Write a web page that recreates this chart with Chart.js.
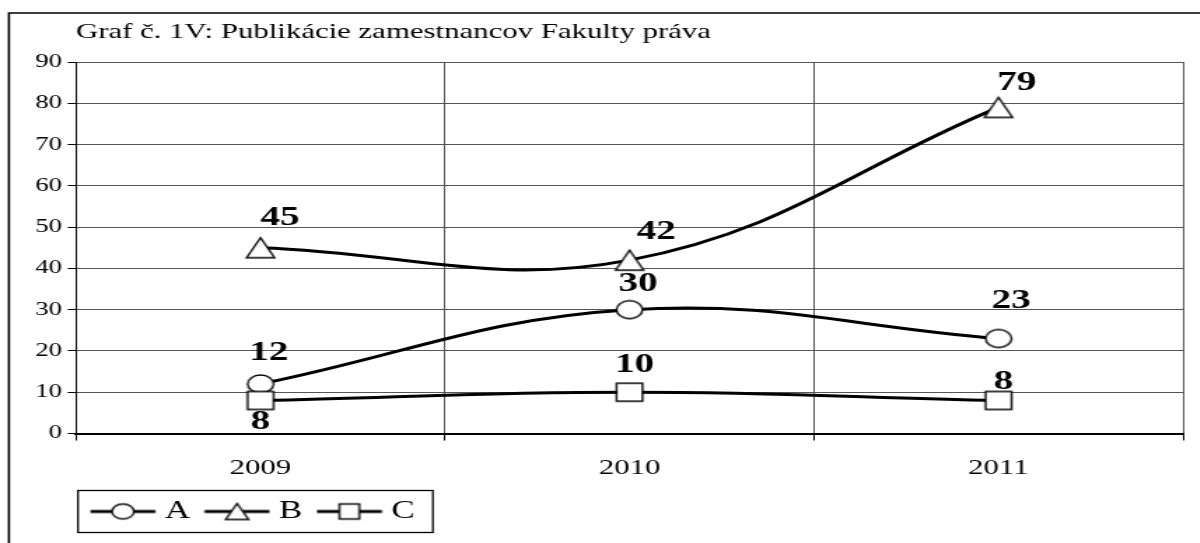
<!DOCTYPE html>
<html><head><meta charset="utf-8">
<script src="https://cdn.jsdelivr.net/npm/chart.js@4/dist/chart.umd.min.js"></script>
<style>
html,body{margin:0;padding:0;background:#fff;overflow:hidden;width:1200px;height:543px}
#c{display:block;transform:scaleX(1.4);transform-origin:0 0}
.fl{position:absolute;left:-9999px;top:0;font-family:"Liberation Serif";}
</style></head>
<body><canvas id="c" width="857" height="543"></canvas>
<span class="fl">Aa0</span><span class="fl" style="font-weight:bold">Aa0</span>
<script>
const chartTitle = 'Graf č. 1V: Publikácie zamestnancov Fakulty práva';
const categories = ['2009', '2010', '2011'];
const seriesNames = ['A', 'B', 'C'];
const seriesA = [12, 30, 23];
const seriesB = [45, 42, 79];
const seriesC = [8, 10, 8];
const yMin = 0, yMax = 90, yStep = 10;

const FONT = '"Liberation Serif", "Times New Roman", Times, serif';
const GRID = '#555555';

function drawShape(g, shape, cx, cy, w, h) {
  g.beginPath();
  if (shape === 'ellipse') g.ellipse(cx, cy, w / 2, h / 2, 0, 0, Math.PI * 2);
  else if (shape === 'triangle') { g.moveTo(cx, cy - h / 2); g.lineTo(cx + w / 2, cy + h / 2); g.lineTo(cx - w / 2, cy + h / 2); g.closePath(); }
  else g.rect(cx - w / 2, cy - h / 2, w, h);
  g.fillStyle = '#fff'; g.fill(); g.stroke();
}
function makeMarker(shape, w, h) {
  const c = document.createElement('canvas');
  c.width = Math.ceil(w + 4); c.height = Math.ceil(h + 4);
  const g = c.getContext('2d');
  g.strokeStyle = '#000'; g.lineWidth = 1.4;
  drawShape(g, shape, c.width / 2, c.height / 2, w, h);
  return c;
}
function makeLegendImg(shape, w, h) {
  const c = document.createElement('canvas');
  c.width = 48; c.height = 22;
  const g = c.getContext('2d');
  g.strokeStyle = '#000'; g.lineWidth = 2.8;
  g.beginPath(); g.moveTo(0.8, 11); g.lineTo(47.2, 11); g.stroke();
  g.lineWidth = 1.4;
  drawShape(g, shape, 24, 11, w, h);
  return c;
}
const markers = [makeMarker('ellipse', 18.5, 18), makeMarker('triangle', 20, 20), makeMarker('rect', 18.5, 18)];
const legendImgs = [makeLegendImg('ellipse', 15.7, 15), makeLegendImg('triangle', 16.4, 16), makeLegendImg('rect', 14.3, 15)];

const framePlugin = {
  id: 'frame',
  beforeDraw(chart) {
    const ctx = chart.ctx;
    ctx.save();
    ctx.fillStyle = '#fff'; ctx.fillRect(0, 0, chart.width, chart.height);
    ctx.strokeStyle = '#000'; ctx.lineWidth = 1.6;
    ctx.beginPath(); ctx.moveTo(6.4, 543); ctx.lineTo(6.4, 13); ctx.lineTo(chart.width, 13); ctx.stroke();
    ctx.restore();
  },
  afterDraw(chart) {
    const lg = chart.legend;
    if (!lg || !lg.legendHitBoxes || !lg.legendHitBoxes.length) return;
    const hb = lg.legendHitBoxes;
    const last = hb[hb.length - 1];
    const cy = hb[0].top + hb[0].height / 2;
    const ctx = chart.ctx;
    ctx.save();
    ctx.strokeStyle = '#000'; ctx.lineWidth = 1.3;
    const l = lg.left + 1.4, r = last.left + last.width + 13;
    ctx.strokeRect(l, cy - 21, r - l, 42);
    ctx.restore();
  }
};

const labelPlugin = {
  id: 'valueLabels',
  afterDatasetsDraw(chart, args, opts) {
    const ctx = chart.ctx;
    ctx.save();
    ctx.font = 'bold 28px ' + FONT;
    ctx.fillStyle = '#000';
    ctx.textAlign = 'center';
    ctx.textBaseline = 'middle';
    chart.data.datasets.forEach((ds, di) => {
      const meta = chart.getDatasetMeta(di);
      meta.data.forEach((pt, i) => {
        const off = opts.offsets[di][i];
        ctx.fillText(String(ds.data[i]), pt.x + off[0], pt.y + off[1]);
      });
    });
    ctx.restore();
  }
};

const seriesData = [seriesA, seriesB, seriesC];
const drawOrder = [2, 1, 0];

function build() {
  new Chart(document.getElementById('c'), {
    type: 'line',
    data: {
      labels: categories,
      datasets: seriesData.map((d, i) => ({
        label: seriesNames[i],
        data: d,
        borderColor: '#000',
        borderWidth: 3,
        backgroundColor: '#fff',
        tension: 0.4,
        pointStyle: markers[i],
        pointRadius: 9,
        pointHoverRadius: 9,
        order: drawOrder[i],
        fill: false
      }))
    },
    options: {
      responsive: false,
      devicePixelRatio: 1,
      animation: false,
      events: [],
      layout: { padding: { left: 6, right: 5, top: 12, bottom: 9 } },
      scales: {
        x: {
          type: 'category',
          offset: true,
          grid: { offset: true, color: GRID, lineWidth: 1, tickColor: '#000', tickLength: 7, drawTicks: true },
          border: { color: '#000', width: 2 },
          ticks: { font: { family: FONT, size: 22 }, color: '#000', padding: 15, maxRotation: 0 },
          afterFit(s) { s.height = 49.5; }
        },
        y: {
          min: yMin, max: yMax,
          grid: { color: GRID, lineWidth: 1, tickColor: '#000', tickLength: 6 },
          border: { color: '#000', width: 1 },
          ticks: { stepSize: yStep, font: { family: FONT, size: 19 }, color: '#000', padding: 4 },
          afterFit(s) { s.width = 48.3; }
        }
      },
      plugins: {
        title: {
          display: true, text: chartTitle, align: 'start', fullSize: false,
          font: { family: FONT, size: 22, weight: 'normal' }, color: '#000',
          padding: { top: 6.8, bottom: 16.8 }
        },
        legend: {
          display: true, position: 'bottom', align: 'start', fullSize: false,
          labels: {
            usePointStyle: true, pointStyleWidth: 35, padding: 16,
            font: { family: FONT, size: 25 }, color: '#000',
            generateLabels(chart) {
              const items = Chart.defaults.plugins.legend.labels.generateLabels(chart);
              items.sort((a, b) => a.datasetIndex - b.datasetIndex);
              items.forEach(it => { it.pointStyle = legendImgs[it.datasetIndex]; it.fontColor = '#000'; });
              return items;
            }
          }
        },
        tooltip: { enabled: false },
        valueLabels: {
          offsets: [
            [[6, -31], [6, -26], [9, -38]],
            [[14, -30], [19, -28], [13, -25]],
            [[0, 21], [3.5, -27], [3.5, -19]]
          ]
        }
      }
    },
    plugins: [framePlugin, labelPlugin]
  });
}

Promise.all([
  document.fonts.load('20px "Liberation Serif"'),
  document.fonts.load('bold 20px "Liberation Serif"')
]).then(build, build);
</script>
</body></html>
